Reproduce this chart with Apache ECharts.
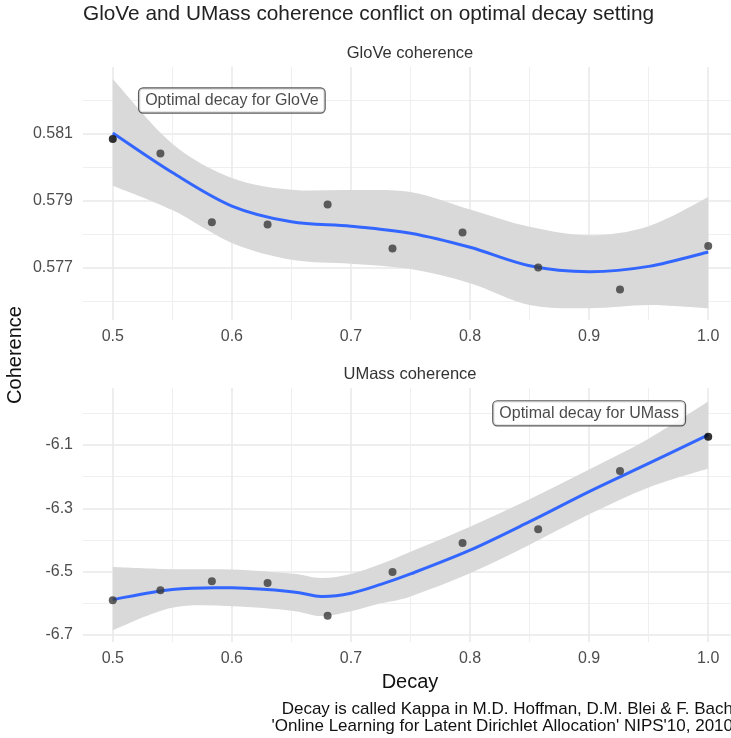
<!DOCTYPE html>
<html><head><meta charset="utf-8">
<script src="https://cdn.jsdelivr.net/npm/echarts@6/dist/echarts.min.js"></script>
<style>html,body{margin:0;padding:0;overflow:hidden;background:#fff;width:731px;height:738px}#c{width:745px;height:738px}</style>
</head><body><div id="c"></div><script>
// ---- texts ----
const chartTitle = 'GloVe and UMass coherence conflict on optimal decay setting';
const panelTitles = ['GloVe coherence', 'UMass coherence'];
const xAxisTitle = 'Decay';
const yAxisTitle = 'Coherence';
const captionLines = ['Decay is called Kappa in M.D. Hoffman, D.M. Blei & F. Bach',
  "'Online Learning for Latent Dirichlet Allocation' NIPS'10, 2010"];

// ---- observed points ----
const decay = [0.5, 0.54, 0.5832, 0.63, 0.6804, 0.7349, 0.7937, 0.8572, 0.9259, 1.0];
const gloveCoherence = [0.58085, 0.58042, 0.57837, 0.57830, 0.57890, 0.57758, 0.57806, 0.57702, 0.57636, 0.57766];
const umassCoherence = [-6.5905, -6.5589, -6.5304, -6.5358, -6.6389, -6.5009, -6.4092, -6.3658, -6.1823, -6.0737];

// ---- smoothed fit (loess) with confidence band ----
const gloveFitX  = [0.5, 0.55, 0.6, 0.65, 0.7, 0.75, 0.8, 0.85, 0.9, 0.95, 1.0];
const gloveFit   = [0.58103, 0.57985, 0.57885, 0.57838, 0.57825, 0.57804, 0.57762, 0.57707, 0.57689, 0.57705, 0.57748];
const gloveUpper = [0.58264, 0.58071, 0.57969, 0.57934, 0.57933, 0.57927, 0.57875, 0.57823, 0.57798, 0.57825, 0.57912];
const gloveLower = [0.57946, 0.57873, 0.57775, 0.57725, 0.57713, 0.57697, 0.57655, 0.57590, 0.57580, 0.57590, 0.57580];

const umassFitX  = [0.5, 0.55, 0.6, 0.65, 0.675, 0.7, 0.725, 0.75, 0.8, 0.85, 0.9, 0.95, 1.0];
const umassFit   = [-6.588, -6.556, -6.551, -6.563, -6.578, -6.568, -6.540, -6.507, -6.432, -6.342, -6.247, -6.158, -6.068];
const umassUpper = [-6.485, -6.492, -6.493, -6.506, -6.520, -6.507, -6.476, -6.437, -6.358, -6.271, -6.177, -6.080, -5.963];
const umassLower = [-6.685, -6.614, -6.609, -6.623, -6.640, -6.625, -6.600, -6.578, -6.505, -6.415, -6.319, -6.234, -6.174];

// ---- ticks ----
const xTicks = [0.5, 0.6, 0.7, 0.8, 0.9, 1.0];
const xMinorGrid = [0.55, 0.65, 0.75, 0.85, 0.95];
const gloveTicks = [0.577, 0.579, 0.581];
const gloveMinorGrid = [0.576, 0.578, 0.580, 0.582];
const umassTicks = [-6.7, -6.5, -6.3, -6.1];
const umassMinorGrid = [-6.6, -6.4, -6.2, -6.0];

// ---- annotations ----
const annotationText = ['Optimal decay for GloVe', 'Optimal decay for UMass'];
const annotationX = [0.6, 0.9];
const annotationY = [0.582, -6.0];

const FONT = 'Liberation Sans, Arial, Helvetica, sans-serif';
const zip = (a, b) => a.map((v, i) => [v, b[i]]);

// Catmull-Rom spline through pixel points -> SVG path segments
function splineSegs(pts) {
  let d = '';
  for (let i = 0; i < pts.length - 1; i++) {
    const p0 = pts[Math.max(i - 1, 0)], p1 = pts[i], p2 = pts[i + 1], p3 = pts[Math.min(i + 2, pts.length - 1)];
    const c1 = [p1[0] + (p2[0] - p0[0]) / 6, p1[1] + (p2[1] - p0[1]) / 6];
    const c2 = [p2[0] - (p3[0] - p1[0]) / 6, p2[1] - (p3[1] - p1[1]) / 6];
    d += ' C' + c1[0] + ',' + c1[1] + ' ' + c2[0] + ',' + c2[1] + ' ' + p2[0] + ',' + p2[1];
  }
  return d;
}

const panels = [
  {ticks: gloveTicks, minor: gloveMinorGrid, ymin: 0.57545, ymax: 0.58300, dec: 3,
   pts: gloveCoherence, fx: gloveFitX, fit: gloveFit, up: gloveUpper, lo: gloveLower},
  {ticks: umassTicks, minor: umassMinorGrid, ymin: -6.722, ymax: -5.92, dec: 1,
   pts: umassCoherence, fx: umassFitX, fit: umassFit, up: umassUpper, lo: umassLower}
];

const grids = [
  {left: 83, top: 67, width: 655, height: 253},
  {left: 83, top: 388, width: 655, height: 254}
];

const xAxes = [], yAxes = [], series = [];
panels.forEach((p, i) => {
  xAxes.push({
    gridIndex: i, type: 'value', min: 0.475, max: 1.025,
    axisLine: {show: false},
    axisTick: {show: false, customValues: xTicks},
    axisLabel: {customValues: xTicks, formatter: v => v.toFixed(1), color: '#4d4d4d', fontSize: 16, fontFamily: FONT, margin: 9},
    splitLine: {show: true, lineStyle: {color: '#e9e9e9', width: 1.5}}
  });
  xAxes.push({
    gridIndex: i, type: 'value', min: 0.475, max: 1.025, position: 'top',
    axisLine: {show: false},
    axisTick: {show: false, customValues: xMinorGrid},
    axisLabel: {show: false},
    splitLine: {show: true, lineStyle: {color: '#efefef', width: 1}}
  });
  yAxes.push({
    gridIndex: i, type: 'value', min: p.ymin, max: p.ymax,
    axisLine: {show: false},
    axisTick: {show: false, customValues: p.ticks},
    axisLabel: {customValues: p.ticks, formatter: v => v.toFixed(p.dec), color: '#4d4d4d', fontSize: 16, fontFamily: FONT, margin: 10},
    splitLine: {show: true, lineStyle: {color: '#e9e9e9', width: 1.5}}
  });
  yAxes.push({
    gridIndex: i, type: 'value', min: p.ymin, max: p.ymax, position: 'right',
    axisLine: {show: false},
    axisTick: {show: false, customValues: p.minor},
    axisLabel: {show: false},
    splitLine: {show: true, lineStyle: {color: '#efefef', width: 1}}
  });
  const xi = 2 * i, yi = 2 * i;
  // confidence band drawn as one closed path through axis coordinates
  series.push({
    type: 'custom', xAxisIndex: xi, yAxisIndex: yi, silent: true, z: 2,
    data: [[p.fx[0], p.fit[0]]],
    renderItem: (params, api) => {
      const upPx = p.fx.map((x, k) => api.coord([x, p.up[k]]));
      const loPx = p.fx.map((x, k) => api.coord([x, p.lo[k]])).reverse();
      let d = 'M' + upPx[0][0] + ',' + upPx[0][1] + splineSegs(upPx);
      d += ' L' + loPx[0][0] + ',' + loPx[0][1] + splineSegs(loPx) + ' Z';
      return {type: 'path', shape: {pathData: d}, style: {fill: '#d9d9d9', stroke: null}};
    }
  });
  // fitted smooth line
  series.push({
    type: 'custom', xAxisIndex: xi, yAxisIndex: yi, silent: true, z: 3,
    data: [[p.fx[0], p.fit[0]]],
    renderItem: (params, api) => {
      const fPx = p.fx.map((x, k) => api.coord([x, p.fit[k]]));
      const d = 'M' + fPx[0][0] + ',' + fPx[0][1] + splineSegs(fPx);
      return {type: 'path', shape: {pathData: d}, style: {fill: null, stroke: '#3366ff', lineWidth: 3}};
    }
  });
  const best = p.pts.indexOf(Math.max(...p.pts));
  series.push({
    type: 'scatter', xAxisIndex: xi, yAxisIndex: yi, data: zip(decay, p.pts),
    symbolSize: 8, silent: true, z: 4,
    itemStyle: {color: params => params.dataIndex === best ? '#000000' : '#3a3a3a'}
  });
  series.push({
    type: 'scatter', xAxisIndex: xi, yAxisIndex: yi, data: [[annotationX[i], annotationY[i]]],
    symbolSize: 0, silent: true, z: 5,
    label: {
      show: true, position: 'inside', formatter: annotationText[i],
      fontSize: 16, fontFamily: FONT, color: '#1a1a1a',
      backgroundColor: '#ffffff', borderColor: '#333333', borderWidth: 1.2, borderRadius: 4,
      padding: [4, 6, 4, 6]
    }
  });
});

const graphic = [
  {type: 'text', x: 83, y: 14, style: {text: chartTitle, fontSize: 20.8, fontFamily: FONT, fill: '#222', verticalAlign: 'middle'}},
  {type: 'text', x: 410, y: 53, style: {text: panelTitles[0], fontSize: 16.5, fontFamily: FONT, fill: '#333', align: 'center', verticalAlign: 'middle'}},
  {type: 'text', x: 410, y: 374, style: {text: panelTitles[1], fontSize: 16.5, fontFamily: FONT, fill: '#333', align: 'center', verticalAlign: 'middle'}},
  {type: 'text', x: 410, y: 682, style: {text: xAxisTitle, fontSize: 20, fontFamily: FONT, fill: '#111', align: 'center', verticalAlign: 'middle'}},
  {type: 'text', x: 15, y: 355, rotation: Math.PI / 2, style: {text: yAxisTitle, fontSize: 20, fontFamily: FONT, fill: '#111', align: 'center', verticalAlign: 'middle'}},
  {type: 'text', x: 733, y: 718, style: {text: captionLines.join('\n'), fontSize: 17, lineHeight: 17, fontFamily: FONT, fill: '#111', align: 'right', verticalAlign: 'middle'}}
];

const chart = echarts.init(document.getElementById('c'), null, {renderer: 'canvas'});
chart.setOption({
  animation: false,
  backgroundColor: '#ffffff',
  grid: grids,
  xAxis: xAxes,
  yAxis: yAxes,
  series: series,
  graphic: graphic
});
</script></body></html>
